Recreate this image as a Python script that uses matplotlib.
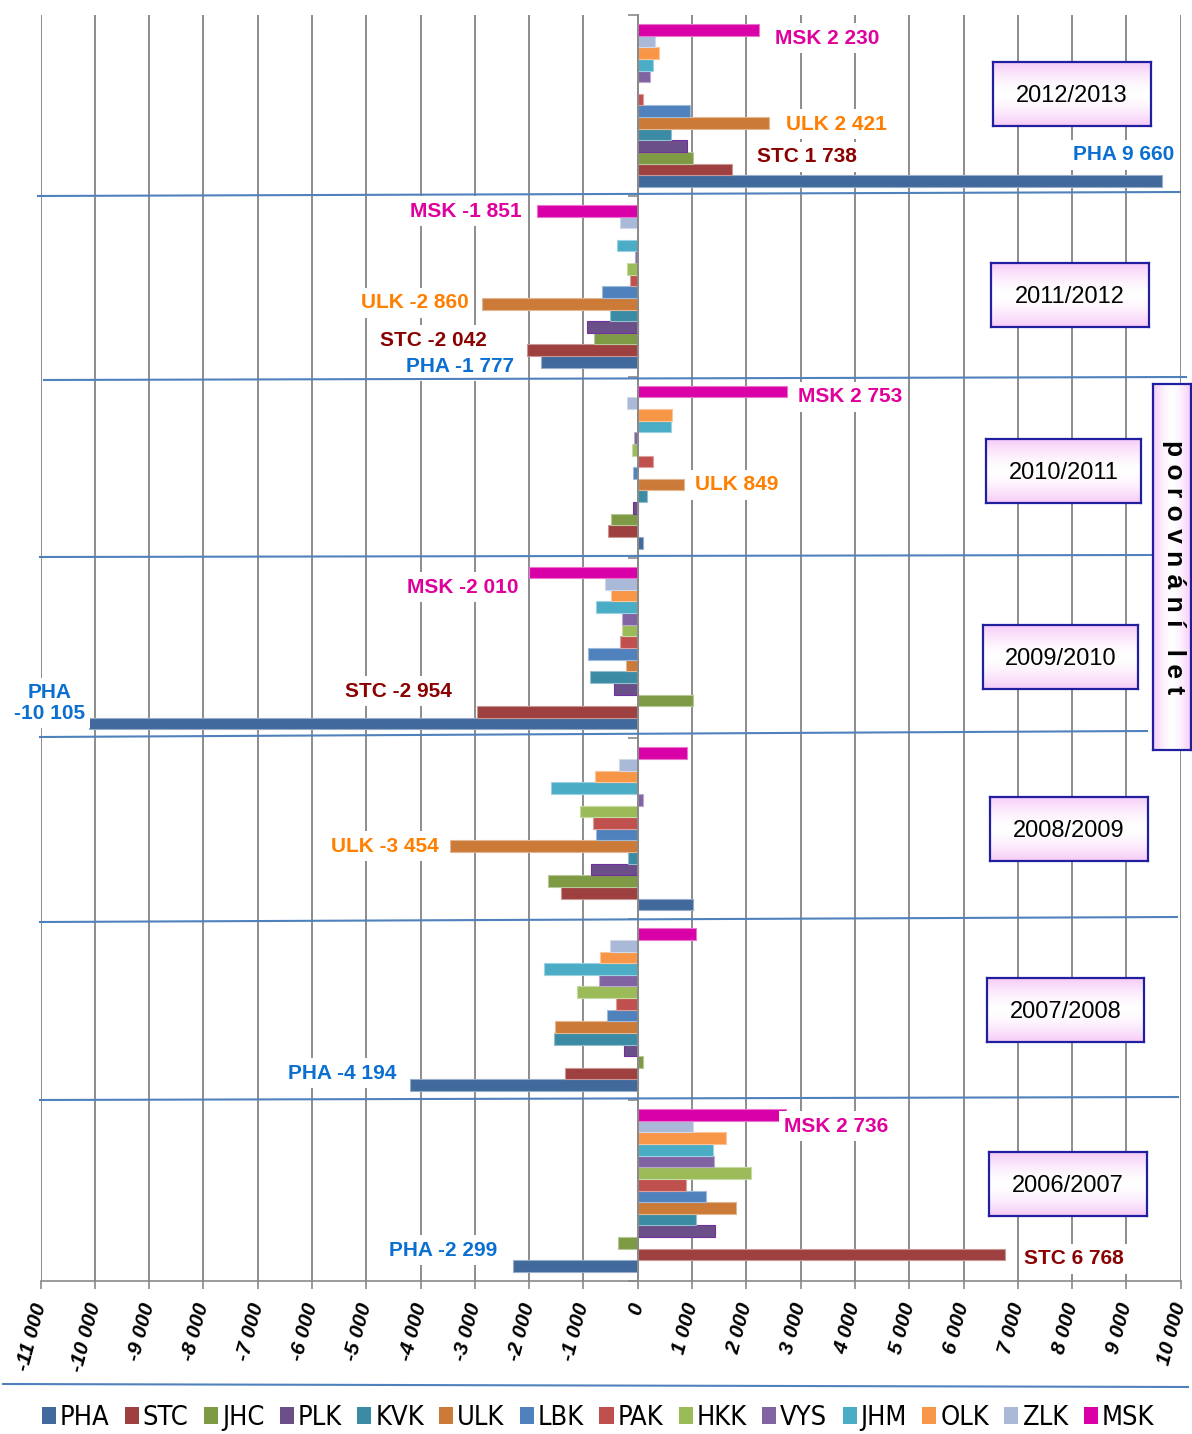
import numpy as np
import matplotlib
matplotlib.use("Agg")
import matplotlib.pyplot as plt
from matplotlib import font_manager
from matplotlib.lines import Line2D
from matplotlib.patches import Patch
import matplotlib.colors as mcolors

# ---------------- data ----------------
regions = ["PHA", "STC", "JHC", "PLK", "KVK", "ULK", "LBK", "PAK", "HKK", "VYS", "JHM", "OLK", "ZLK", "MSK"]
colors = ["#41699b", "#9e403f", "#7e9a44", "#6a4f89", "#3c8ba4", "#cc7a38", "#4f81bd",
          "#c0504d", "#9bbb59", "#8064a2", "#4bacc6", "#f79646", "#aab9d8", "#d900a8"]
years = ["2006/2007", "2007/2008", "2008/2009", "2009/2010", "2010/2011", "2011/2012", "2012/2013"]

v_2006_07 = [-2299, 6768, -368, 1430, 1080, 1817, 1265, 884, 2081, 1412, 1381, 1626, 1019, 2736]
v_2007_08 = [-4194, -1338, 98, -258, -1534, -1522, -571, -399, -1123, -718, -1725, -694, -510, 1080]
v_2008_09 = [1013, -1412, -1645, -859, -184, -3454, -761, -829, -1062, 98, -1590, -780, -338, 908]
v_2009_10 = [-10105, -2954, 1025, -442, -878, -215, -908, -331, -295, -288, -767, -497, -595, -2010]
v_2010_11 = [104, -552, -485, -92, 172, 849, -86, 282, -110, -61, 620, 626, -190, 2753]
v_2011_12 = [-1777, -2042, -805, -927, -516, -2860, -657, -147, -203, -55, -387, 0, -325, -1851]
v_2012_13 = [9660, 1738, 1025, 903, 608, 2421, 958, 100, 0, 220, 276, 400, 320, 2230]
values = [v_2006_07, v_2007_08, v_2008_09, v_2009_10, v_2010_11, v_2011_12, v_2012_13]

x_ticks = list(range(-11000, 10001, 1000))

# annotated bars: (year index, region code, text x, text y, ha)
annotations = [
    (6, "MSK", 2529, 6.872, "left"),
    (6, "ULK", 2731, 6.397, "left"),
    (6, "STC", 2197, 6.215, "left"),
    (6, "PHA", 9886, 6.226, "right"),
    (5, "MSK", -2131, 5.916, "right"),
    (5, "ULK", -3107, 5.408, "right"),
    (5, "STC", -2775, 5.203, "right"),
    (5, "PHA", -2278, 5.059, "right"),
    (4, "MSK", 2953, 4.888, "left"),
    (4, "ULK", 1055, 4.402, "left"),
    (3, "MSK", -2204, 3.837, "right"),
    (3, "STC", -3420, 3.262, "right"),
    (3, "PHA", -10840, 3.196, "center"),
    (2, "ULK", -3660, 2.405, "right"),
    (1, "PHA", -4449, 1.150, "right"),
    (0, "MSK", 2694, 0.857, "left"),
    (0, "PHA", -2591, 0.171, "right"),
    (0, "STC", 7114, 0.122, "left"),
]
label_colors = {"MSK": "#e0009c", "ULK": "#ff7f00", "STC": "#8b0000", "PHA": "#0a6fd0"}


def fmt(v):
    s = f"{abs(int(v)):,}".replace(",", " ")
    return ("-" if v < 0 else "") + s


# ---------------- fonts ----------------
names = {f.name for f in font_manager.fontManager.ttflist}
BASE = "Liberation Sans" if "Liberation Sans" in names else "DejaVu Sans"
if "Liberation Sans Narrow" in names:
    LEG_FONT = dict(family="Liberation Sans Narrow", size=20)
else:
    LEG_FONT = dict(family="DejaVu Sans", stretch="condensed", size=19.5)
plt.rcParams["font.family"] = [BASE, "DejaVu Sans"]

W, H = 1192, 1434
fig = plt.figure(figsize=(W / 100, H / 100), dpi=100)

def fx(px):
    return px / W

def fy(py):
    return 1 - py / H

ax_l, ax_r, ax_t, ax_b = 40.5, 1180.7, 15, 1281
ax = fig.add_axes([fx(ax_l), fy(ax_b), fx(ax_r - ax_l), (ax_b - ax_t) / H])

n = len(regions)
bh = 0.9 / n
for gi, vals in enumerate(values):
    for ri, v in enumerate(vals):
        y = gi + 0.05 + (ri + 0.5) * bh
        face = colors[ri]
        edge = "#7030a0" if regions[ri] == "PLK" else mcolors.to_hex(
            0.55 * np.array(mcolors.to_rgb(face)) + 0.45)
        ax.barh(y, v, height=bh, color=face, edgecolor=edge, linewidth=0.8, zorder=3)

ax.set_xlim(-11000, 10000)
ax.set_ylim(0, 7)
ax.set_xticks(x_ticks)
ax.set_xticklabels([fmt(t) for t in x_ticks], rotation=75, ha="right", va="center",
                   rotation_mode="anchor", fontsize=15, fontweight="bold", fontstyle="italic")
ax.tick_params(axis="x", length=6, width=1.2, color="#8a8a8a", pad=10)
ax.xaxis.grid(True, color="#8c8c8c", linewidth=1.4, zorder=0)
ax.set_axisbelow(True)
ax.spines["top"].set_visible(False)
ax.spines["right"].set_visible(False)
ax.spines["bottom"].set_color("#8a8a8a")
ax.spines["bottom"].set_linewidth(1.2)
ax.spines["left"].set_position(("data", 0))
ax.spines["left"].set_color("#8a8a8a")
ax.spines["left"].set_linewidth(1.4)
ax.spines["left"].set_zorder(4)
ax.set_yticks(range(0, 8))
ax.set_yticklabels([])
ax.tick_params(axis="y", length=7, width=1.2, color="#8a8a8a", direction="out")

# value labels
for gi, code, tx, ty, ha in annotations:
    v = values[gi][regions.index(code)]
    txt = f"{code}\n{fmt(v)}" if ha == "center" else f"{code} {fmt(v)}"
    ax.text(tx, ty, txt, ha=ha, va="center", fontsize=15, fontweight="bold",
            color=label_colors[code], zorder=6, linespacing=1.15, multialignment="center",
            bbox=dict(boxstyle="square,pad=0.25", fc="white", ec="none"))

# separator lines (drawn shapes)
sep = [((38, 196), (1180, 192)), ((44, 380), (1186, 377)), ((40, 557), (1152, 555)),
       ((40, 737), (1147, 731)), ((40, 922), (1177, 917)), ((40, 1100), (1178, 1097)),
       ((3, 1384), (1188, 1387))]
for (x0, y0), (x1, y1) in sep:
    fig.add_artist(Line2D([fx(x0), fx(x1)], [fy(y0), fy(y1)], color="#4f81bd", linewidth=1.5, zorder=10))

# year boxes with gradient
pink = np.array(mcolors.to_rgb("#f7cbf7"))
def grad_box(x0, y0, x1, y1, horizontal=False):
    bax = fig.add_axes([fx(x0), fy(y1), fx(x1 - x0), (y1 - y0) / H], zorder=20)
    t = np.linspace(-1, 1, 64)
    w = (np.abs(t) ** 1.6)[:, None]
    img = (1 - w) * np.ones(3) + w * pink
    img = img[:, None, :] if not horizontal else img[None, :, :]
    bax.imshow(img, aspect="auto", extent=[0, 1, 0, 1])
    bax.set_xticks([]); bax.set_yticks([])
    for s in bax.spines.values():
        s.set_color("#1f1fa0"); s.set_linewidth(1.6)
    return bax

year_boxes = [(989, 1152, 1147, 1216), (987, 978, 1144, 1042), (990, 797, 1148, 861),
              (983, 625, 1138, 689), (986, 439, 1141, 503), (991, 263, 1149, 327),
              (993, 62, 1151, 126)]
for yr, (x0, y0, x1, y1) in zip(years, year_boxes):
    b = grad_box(x0, y0, x1, y1)
    b.text(0.5, 0.47, yr, ha="center", va="center", fontsize=17, transform=b.transAxes)

vb = grad_box(1153, 384, 1191, 750, horizontal=True)
vb.text(0.55, 0.5, "p o r o v n á n í   l e t", rotation=-90, ha="center", va="center",
        fontsize=19, fontweight="bold", transform=vb.transAxes)

# legend
handles = [Patch(facecolor=c, edgecolor="none") for c in colors]
fig.legend(handles, regions, loc="center", bbox_to_anchor=(fx(598), fy(1418)), ncol=14,
           frameon=False, prop=LEG_FONT, handlelength=0.52, handleheight=0.6,
           handletextpad=0.15, columnspacing=0.56, borderaxespad=0)

fig.savefig("out.png", dpi=100)
